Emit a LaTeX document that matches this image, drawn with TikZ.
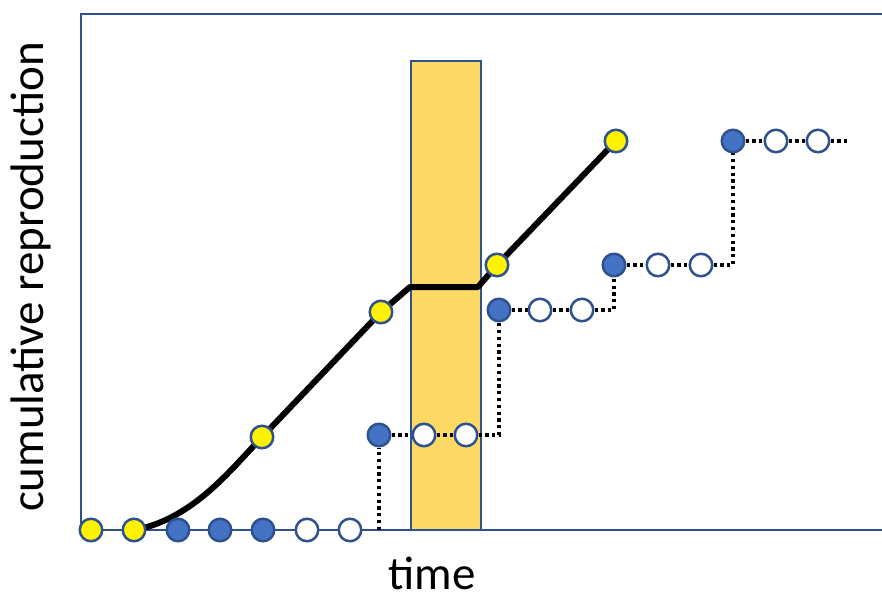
\documentclass[tikz,border=0pt]{standalone}
\usepackage{fontspec}
\setmainfont{Carlito}
\usetikzlibrary{backgrounds}
\definecolor{frameblue}{HTML}{2F528F}
\definecolor{dotblue}{HTML}{4472C4}
\definecolor{gold}{HTML}{FFD966}
\tikzstyle{vertex}=[circle,draw=frameblue,line width=2.5pt,minimum size=22.5pt,inner sep=0pt]
\tikzstyle{yellowdot}=[vertex,fill=yellow]
\tikzstyle{bluedot}=[vertex,fill=dotblue]
\tikzstyle{opendot}=[vertex,fill=white]
\tikzstyle{trail}=[line width=3.2pt,dash pattern=on 3.2pt off 3.6pt]

\begin{document}
\begin{tikzpicture}[x=1pt,y=-1pt]
\useasboundingbox (0,0) rectangle (882,596);
% bottom row
\node[yellowdot] at (91, 530) (y1) {};
\node[yellowdot] at (134, 530) (y2) {};
\node[bluedot] at (178, 530) (a1) {};
\node[bluedot] at (220, 530) (a2) {};
\node[bluedot] at (263, 530) (a3) {};
\node[opendot] at (307, 530) (a4) {};
\node[opendot] at (350, 530) (a5) {};
% offspring rows
\node[bluedot] at (379, 435) (b1) {};
\node[opendot] at (424, 435) (w11) {};
\node[opendot] at (466, 435) (w12) {};
\node[bluedot] at (499, 310) (b2) {};
\node[opendot] at (540, 310) (w21) {};
\node[opendot] at (582, 310) (w22) {};
\node[bluedot] at (614, 265) (b3) {};
\node[opendot] at (658, 265) (w31) {};
\node[opendot] at (701, 265) (w32) {};
\node[bluedot] at (733, 141) (b4) {};
\node[opendot] at (776, 141) (w41) {};
\node[opendot] at (818, 141) (w42) {};
% points on the curve
\node[yellowdot] at (262, 437) (c1) {};
\node[yellowdot] at (381, 312) (c2) {};
\node[yellowdot] at (497, 265) (c3) {};
\node[yellowdot] at (616, 141) (c4) {};
\coordinate (base) at (379, 530);
\coordinate (tail) at (850, 141);
\coordinate (knee1) at (410, 287);
\coordinate (knee2) at (478, 287);
\node[rotate=90,font=\fontsize{47}{56}\selectfont] at (31, 277) (ylab) {cumulative reproduction};
\node[inner sep=0pt,font=\fontsize{47}{56}\selectfont] at (432, 573) (xlab) {time};
\begin{scope}[on background layer]
\draw[frameblue,line width=1.5pt,fill=gold] (411, 61) rectangle (481, 530);
\draw[frameblue,line width=2.5pt] (882, 14) -- (81, 14) -- (81, 530) -- (882, 530);
\draw[line width=6pt,line join=round] (y2.center) .. controls (180, 522) and (214, 488) .. (236, 465) -- (c1.center) -- (c2.center) -- (knee1) -- (knee2) -- (c3.center) -- (c4.center);
\draw[trail] (base) -- (b1);
\draw[trail] (b1) -- (w11) -- (w12) -- (w12 -| b2) -- (b2);
\draw[trail] (b2) -- (w21) -- (w22) -- (w22 -| b3) -- (b3);
\draw[trail] (b3) -- (w31) -- (w32) -- (w32 -| b4) -- (b4);
\draw[trail] (b4) -- (w41) -- (w42) -- (tail);
\end{scope}
\end{tikzpicture}
\end{document}
